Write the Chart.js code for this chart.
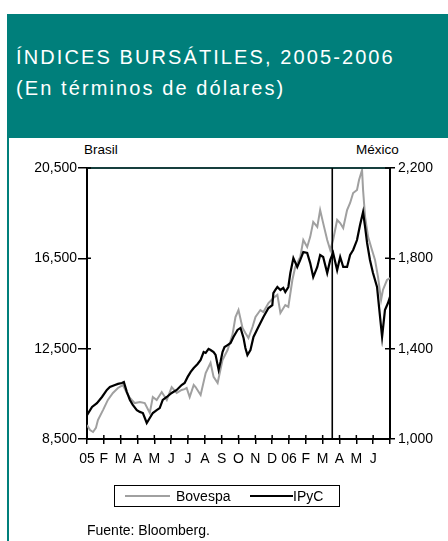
<!DOCTYPE html>
<html>
<head>
<meta charset="utf-8">
<script src="https://cdn.jsdelivr.net/npm/chart.js@4.4.1/dist/chart.umd.min.js"></script>
<style>
  html, body { margin:0; padding:0; background:#fff; width:448px; height:541px; overflow:hidden; font-family:"Liberation Sans", Arial, sans-serif; }
  #header { position:absolute; left:7px; top:14px; width:460px; height:124px; background:#007f7b; }
  #side { position:absolute; left:7px; top:138px; width:2px; height:420px; background:#007f7b; }
  .t { position:absolute; color:#fff; font-size:20px; line-height:20px; letter-spacing:2.1px; white-space:nowrap; left:16px; }
  .lbl { position:absolute; font-size:13.5px; line-height:14px; color:#000; white-space:nowrap; }
  #wrap { position:absolute; left:0; top:0; width:448px; height:541px; }
  #legend { position:absolute; left:114px; top:485px; width:226px; height:22px; box-sizing:border-box; border:1.5px solid #000; }
  .ll { position:absolute; top:9px; height:2px; }
  .lt { position:absolute; top:2px; font-size:14px; line-height:16px; color:#000; }
</style>
</head>
<body>
<div id="header"></div>
<div id="side"></div>
<div class="t" style="top:47px;">ÍNDICES BURSÁTILES, 2005-2006</div>
<div class="t" style="top:78px;">(En términos de dólares)</div>
<div class="lbl" style="left:84px; top:143px;">Brasil</div>
<div class="lbl" style="left:356px; top:143px;">México</div>
<div id="wrap"><canvas id="c" width="448" height="541"></canvas></div>
<div id="legend">
  <div class="ll" style="left:10px; width:45px; background:#a0a0a0;"></div>
  <div class="lt" style="left:61px;">Bovespa</div>
  <div class="ll" style="left:135px; width:43px; background:#000;"></div>
  <div class="lt" style="left:178px;">IPyC</div>
</div>
<div class="lbl" style="left:87px; top:523px; font-size:14px; line-height:14px;">Fuente: Bloomberg.</div>
<script>
// Month tick labels (Jan 2005 .. Jun 2006)
const monthLabels = ['05','F','M','A','M','J','J','A','S','O','N','D','06','F','M','A','M','J'];
// Vertical reference line position (months since Jan 2005)
const eventMonth = 14.57;

// Bovespa (Brasil, left axis)
const bovMonths = [0,0.18,0.36,0.53,0.65,0.95,1.24,1.54,1.84,2.13,
  2.37,2.55,2.84,3.14,3.43,3.73,3.91,4.14,4.44,4.74,
  5.03,5.33,5.62,5.80,5.92,6.10,6.34,6.45,6.75,7.05,
  7.34,7.52,7.76,8.05,8.35,8.64,8.82,9.00,9.24,9.41,
  9.59,9.83,10.01,10.30,10.48,10.78,11.07,11.31,11.49,11.78,
  11.96,12.20,12.37,12.67,12.85,13.08,13.26,13.44,13.68,13.85,
  14.03,14.27,14.45,14.62,14.86,15.04,15.22,15.45,15.63,15.81,
  16.04,16.16,16.34,16.40,16.52,16.70,16.93,17.11,17.29,17.47,
  17.58,17.82,18.00];
const bovValues = [9120,8900,8810,8990,9340,9780,10230,10540,10760,10890,
  10540,10320,10090,10140,10090,9650,10360,10230,10580,10230,
  10800,10540,10670,10710,10760,10360,10890,10800,10450,11420,
  11870,11250,10980,12000,12440,13110,13900,14210,13420,13190,
  12970,13460,13900,14210,14120,14520,14740,14880,14080,14430,
  14350,15540,16120,16560,17310,17000,17450,18110,17890,18640,
  18060,17310,16870,17310,18200,18060,17840,18640,18950,19390,
  19530,19970,20410,19530,18330,17450,16870,16430,15670,14660,
  15100,15540,15630];

// IPyC (México, right axis)
const ipcMonths = [0,0.30,0.59,0.89,1.18,1.36,1.66,1.84,2.07,2.19,
  2.37,2.55,2.72,2.96,3.14,3.32,3.55,3.73,3.91,4.14,
  4.32,4.50,4.74,5.03,5.33,5.62,5.80,5.98,6.16,6.34,
  6.57,6.75,6.93,7.05,7.22,7.34,7.52,7.64,7.82,7.93,
  8.05,8.17,8.35,8.53,8.70,8.94,9.12,9.30,9.41,9.53,
  9.71,9.89,10.18,10.48,10.78,11.01,11.07,11.19,11.31,11.49,
  11.66,11.78,11.96,12.08,12.26,12.49,12.67,12.85,13.08,13.26,
  13.44,13.68,13.85,14.03,14.27,14.45,14.62,14.86,15.04,15.22,
  15.45,15.63,15.81,16.04,16.22,16.40,16.52,16.64,16.81,16.99,
  17.23,17.35,17.53,17.70,17.88,18.00];
const ipcValues = [1106,1142,1159,1186,1217,1230,1239,1244,1248,1252,
  1208,1173,1151,1128,1120,1115,1071,1093,1115,1128,
  1137,1173,1186,1204,1217,1239,1248,1275,1297,1314,
  1332,1350,1385,1381,1399,1394,1385,1372,1306,1341,
  1385,1407,1416,1425,1452,1483,1492,1447,1403,1372,
  1394,1452,1496,1540,1580,1593,1646,1660,1673,1660,
  1669,1651,1673,1735,1801,1762,1793,1828,1824,1779,
  1717,1762,1815,1806,1735,1793,1824,1748,1806,1762,
  1762,1815,1837,1881,1948,2005,1939,1868,1793,1735,
  1673,1584,1452,1571,1602,1629];

const leftTicks = [8500, 12500, 16500, 20500];
const rightTicks = [1000, 1400, 1800, 2200];

const toXY = (xs, ys) => xs.map((x, i) => ({x: x, y: ys[i]}));
const fmt = v => Number(v).toLocaleString('en-US');
const tickFont = {family: '"Liberation Sans", Arial, sans-serif', size: 14};

const decor = {
  id: 'decor',
  afterDraw(chart) {
    const ctx = chart.ctx, a = chart.chartArea;
    const sx = chart.scales.x, sl = chart.scales.yL, sr = chart.scales.yR;
    ctx.save();
    ctx.strokeStyle = '#163f3d'; ctx.lineWidth = 2;
    ctx.beginPath(); ctx.moveTo(a.left, a.top); ctx.lineTo(a.right, a.top); ctx.stroke();
    const ex = sx.getPixelForValue(eventMonth);
    ctx.strokeStyle = '#000'; ctx.lineWidth = 1.6;
    ctx.beginPath(); ctx.moveTo(ex, a.top); ctx.lineTo(ex, a.bottom); ctx.stroke();
    ctx.lineWidth = 1.5;
    ctx.beginPath();
    sx.ticks.forEach(t => { const p = sx.getPixelForValue(t.value); ctx.moveTo(p, a.bottom); ctx.lineTo(p, a.bottom - 4); });
    sl.ticks.forEach(t => { const p = sl.getPixelForValue(t.value); ctx.moveTo(a.left, p); ctx.lineTo(a.left + 4, p); });
    sr.ticks.forEach(t => { const p = sr.getPixelForValue(t.value); ctx.moveTo(a.right, p); ctx.lineTo(a.right - 5, p); });
    ctx.stroke();
    ctx.restore();
  }
};

new Chart(document.getElementById('c'), {
  type: 'line',
  data: {
    datasets: [
      { label: 'IPyC', data: toXY(ipcMonths, ipcValues), yAxisID: 'yR', borderColor: '#000', borderWidth: 2.2, pointRadius: 0, tension: 0, order: 0 },
      { label: 'Bovespa', data: toXY(bovMonths, bovValues), yAxisID: 'yL', borderColor: '#a0a0a0', borderWidth: 2, pointRadius: 0, tension: 0, order: 1 }
    ]
  },
  options: {
    responsive: false,
    animation: false,
    layout: { padding: { top: 168, bottom: 72, left: 0, right: 0 } },
    plugins: { legend: { display: false }, tooltip: { enabled: false } },
    scales: {
      x: {
        type: 'linear', min: 0, max: 18, position: 'bottom',
        afterFit: s => { s.height = 30; },
        afterBuildTicks: s => { s.ticks = monthLabels.map((_, i) => ({value: i})).concat([{value: 18}]); },
        ticks: { autoSkip: false, maxRotation: 0, padding: 7, color: '#000', font: tickFont,
                 callback: v => (monthLabels[v] !== undefined ? monthLabels[v] : '') },
        grid: { drawOnChartArea: false, drawTicks: true, tickLength: 5, color: '#000', lineWidth: 1.5 },
        border: { color: '#000', width: 2 }
      },
      yL: {
        type: 'linear', position: 'left', min: 8500, max: 20500,
        afterFit: s => { s.width = 87; },
        afterBuildTicks: s => { s.ticks = leftTicks.map(v => ({value: v})); },
        ticks: { padding: 1, color: '#000', font: tickFont, callback: v => fmt(v) },
        grid: { drawOnChartArea: false, drawTicks: true, tickLength: 9, color: '#000', lineWidth: 1.5 },
        border: { color: '#000', width: 2 }
      },
      yR: {
        type: 'linear', position: 'right', min: 1000, max: 2200,
        afterFit: s => { s.width = 58; },
        afterBuildTicks: s => { s.ticks = rightTicks.map(v => ({value: v})); },
        ticks: { padding: 3, color: '#000', font: tickFont, callback: v => fmt(v) },
        grid: { drawOnChartArea: false, drawTicks: true, tickLength: 5, color: '#000', lineWidth: 1.5 },
        border: { color: '#000', width: 2 }
      }
    }
  },
  plugins: [decor]
});
</script>
</body>
</html>
